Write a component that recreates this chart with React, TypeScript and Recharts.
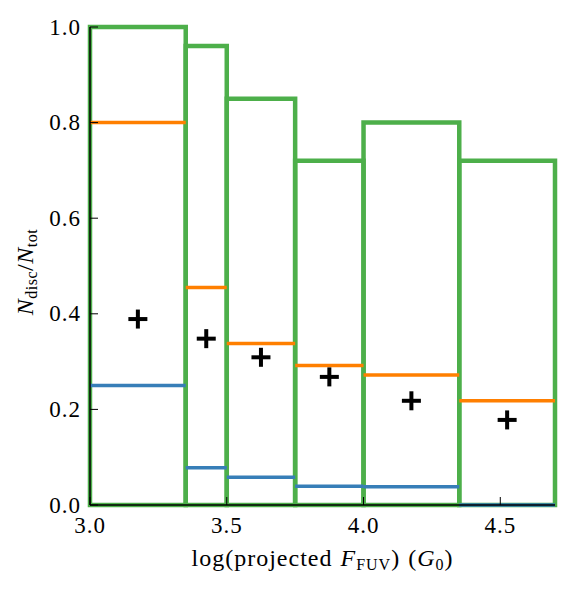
import { ComposedChart, XAxis, YAxis, ReferenceArea, ReferenceLine, Scatter, Label } from "recharts"

// histogram bins in log(projected F_FUV)
const binEdges = [3.0, 3.35, 3.5, 3.75, 4.0, 4.35, 4.7]
const totalFrac = [1.0, 0.96, 0.85, 0.72, 0.8, 0.72]
const orangeFrac = [0.8, 0.455, 0.338, 0.292, 0.272, 0.218]
const blueFrac = [0.25, 0.078, 0.058, 0.039, 0.038, 0.0]

// mean fraction per bin (black crosses)
const binCentres = [3.175, 3.425, 3.625, 3.875, 4.175, 4.525]
const meanFrac = [0.389, 0.348, 0.309, 0.268, 0.218, 0.178]

const xTicks = [3.0, 3.5, 4.0, 4.5]
const yTicks = [0.0, 0.2, 0.4, 0.6, 0.8, 1.0]

const GREEN = "#4daf4a"
const ORANGE = "#ff7f00"
const BLUE = "#377eb8"
const FONT = "'Liberation Serif', 'DejaVu Serif', serif"
const TICK_LEN = 8

const crossData = binCentres.map((x, i) => ({ x, y: meanFrac[i] }))

const BottomTick = (props: any) => {
  const { x, y, payload } = props
  return (
    <g>
      <line x1={x} x2={x} y1={y} y2={y - TICK_LEN} stroke="#000" strokeWidth={1} />
      <text x={x} y={y + 28} textAnchor="middle" fontFamily={FONT} fontSize={23} letterSpacing={1} fill="#000">
        {payload.value.toFixed(1)}
      </text>
    </g>
  )
}

const LeftTick = (props: any) => {
  const { x, y, payload } = props
  return (
    <g>
      <line x1={x} x2={x + TICK_LEN} y1={y} y2={y} stroke="#000" strokeWidth={1} />
      <text x={x - 9} y={y + 7.5} textAnchor="end" fontFamily={FONT} fontSize={23} letterSpacing={1} fill="#000">
        {payload.value.toFixed(1)}
      </text>
    </g>
  )
}

const TopTick = (props: any) => {
  const { x, y } = props
  return <line x1={x} x2={x} y1={y} y2={y + TICK_LEN} stroke="#000" strokeWidth={1} />
}

const RightTick = (props: any) => {
  const { x, y } = props
  return <line x1={x} x2={x - TICK_LEN} y1={y} y2={y} stroke="#000" strokeWidth={1} />
}

const PlusMark = (props: any) => {
  const { cx, cy } = props
  const r = 9.5
  return (
    <g>
      <line x1={cx - r} x2={cx + r} y1={cy} y2={cy} stroke="#000" strokeWidth={4} />
      <line x1={cx} x2={cx} y1={cy - r} y2={cy + r} stroke="#000" strokeWidth={4} />
    </g>
  )
}

const XTitle = (props: any) => {
  const { viewBox } = props
  const cx = viewBox.x + viewBox.width / 2
  return (
    <text x={cx} y={viewBox.y + 61} textAnchor="middle" fontFamily={FONT} fontSize={24} letterSpacing={1} fill="#000">
      log(projected<tspan dx={8} fontStyle="italic">F</tspan>
      <tspan fontSize={16} dy={4}>FUV</tspan>
      <tspan dy={-4}>)</tspan>
      <tspan dx={8}>(</tspan>
      <tspan fontStyle="italic">G</tspan>
      <tspan fontSize={16} dy={4}>0</tspan>
      <tspan dy={-4}>)</tspan>
    </text>
  )
}

const YTitle = (props: any) => {
  const { viewBox } = props
  const x = viewBox.x + 25
  const y = viewBox.y + viewBox.height / 2 + 6
  return (
    <text x={x} y={y} transform={`rotate(-90 ${x} ${y})`} textAnchor="middle" fontFamily={FONT} fontSize={24} letterSpacing={0.5} fill="#000">
      <tspan fontStyle="italic">N</tspan>
      <tspan fontSize={16} dy={4}>disc</tspan>
      <tspan dy={-4}>/</tspan>
      <tspan fontStyle="italic">N</tspan>
      <tspan fontSize={16} dy={4}>tot</tspan>
    </text>
  )
}

export default function App() {
  const bins = totalFrac.map((_, i) => i)
  return (
    <div style={{ width: 562, height: 581 }}>
      <ComposedChart width={562} height={581} margin={{ top: 19, right: 15, bottom: 0, left: 0 }}>
        <XAxis
          xAxisId={0}
          dataKey="x"
          type="number"
          domain={[3.0, 4.7]}
          ticks={xTicks}
          allowDataOverflow
          height={84}
          tickSize={0}
          tickMargin={0}
          tick={<BottomTick />}
          axisLine={{ stroke: "#000", strokeWidth: 1.5 }}
        >
          <Label content={<XTitle />} />
        </XAxis>
        <XAxis
          xAxisId="top"
          orientation="top"
          dataKey="x"
          type="number"
          domain={[3.0, 4.7]}
          ticks={xTicks}
          allowDataOverflow
          height={0}
          tickSize={0}
          tickMargin={0}
          tick={<TopTick />}
          axisLine={{ stroke: "#000", strokeWidth: 1.5 }}
        />
        <YAxis
          yAxisId={0}
          type="number"
          domain={[0, 1]}
          ticks={yTicks}
          allowDataOverflow
          width={82}
          tickSize={0}
          tickMargin={0}
          tick={<LeftTick />}
          axisLine={{ stroke: "#000", strokeWidth: 1.5 }}
        >
          <Label content={<YTitle />} />
        </YAxis>
        <YAxis
          yAxisId="right"
          orientation="right"
          type="number"
          domain={[0, 1]}
          ticks={yTicks}
          allowDataOverflow
          width={0}
          tickSize={0}
          tickMargin={0}
          tick={<RightTick />}
          axisLine={{ stroke: "#000", strokeWidth: 1.5 }}
        />

        {bins.map((i) => (
          <ReferenceLine
            key={`b${i}`}
            segment={[
              { x: binEdges[i], y: blueFrac[i] },
              { x: binEdges[i + 1], y: blueFrac[i] },
            ]}
            stroke={BLUE}
            strokeWidth={3.5}
          />
        ))}
        {bins.map((i) => (
          <ReferenceLine
            key={`o${i}`}
            segment={[
              { x: binEdges[i], y: orangeFrac[i] },
              { x: binEdges[i + 1], y: orangeFrac[i] },
            ]}
            stroke={ORANGE}
            strokeWidth={3.5}
          />
        ))}
        {bins.map((i) => (
          <ReferenceArea
            key={`g${i}`}
            x1={binEdges[i]}
            x2={binEdges[i + 1]}
            y1={0}
            y2={totalFrac[i]}
            fill="none"
            fillOpacity={0}
            stroke={GREEN}
            strokeWidth={4.5}
            strokeOpacity={1}
          />
        ))}

        <Scatter data={crossData} dataKey="y" shape={<PlusMark />} isAnimationActive={false} />
      </ComposedChart>
    </div>
  )
}
